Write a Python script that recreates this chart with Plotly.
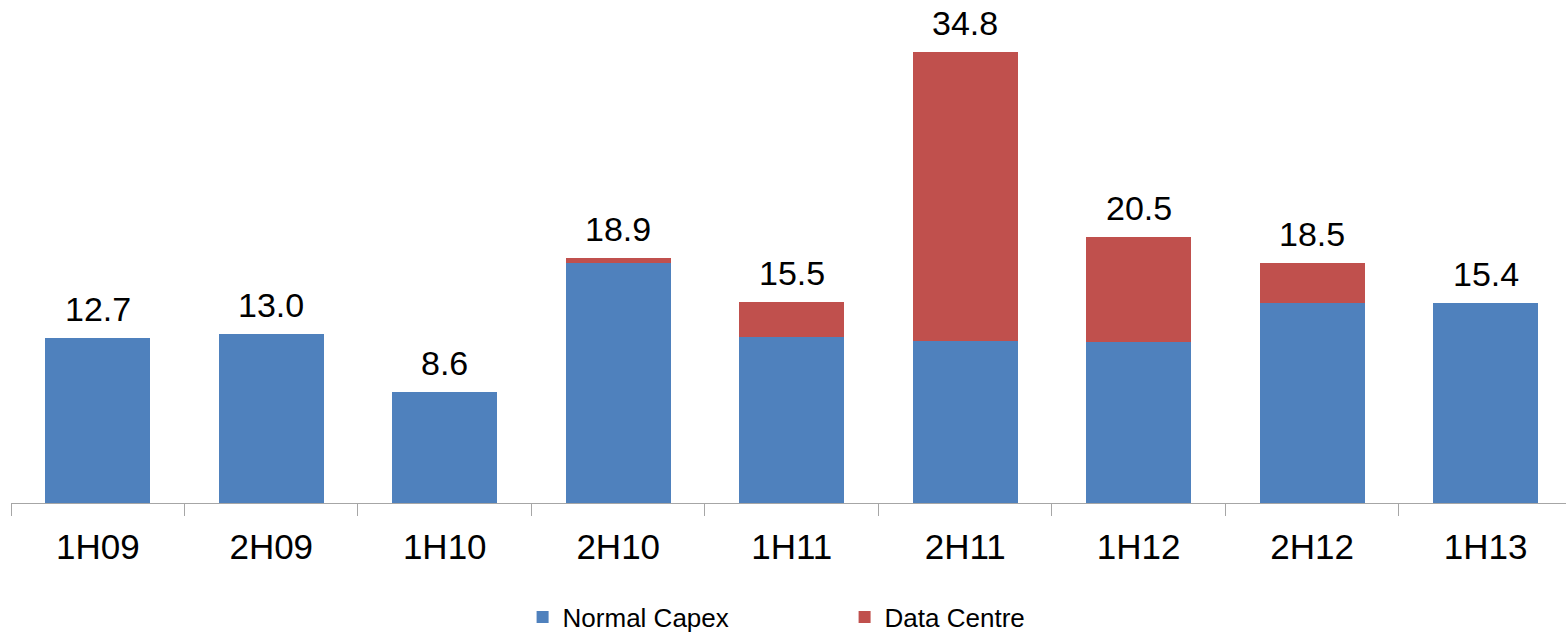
import plotly.graph_objects as go

# Half-year capex, split into normal spend and the data centre build
periods = ["1H09", "2H09", "1H10", "2H10", "1H11", "2H11", "1H12", "2H12", "1H13"]
normal_capex = [12.7, 13.0, 8.6, 18.5, 12.8, 12.5, 12.4, 15.4, 15.4]
data_centre = [0.0, 0.0, 0.0, 0.4, 2.7, 22.3, 8.1, 3.1, 0.0]

totals = [round(a + b, 1) for a, b in zip(normal_capex, data_centre)]

FONT = "Liberation Sans, Arial, sans-serif"
BLUE = "#4F81BD"
RED = "#C0504D"

fig = go.Figure()
fig.add_trace(go.Bar(x=periods, y=normal_capex, name="Normal Capex",
                     marker=dict(color=BLUE, line=dict(width=0))))
fig.add_trace(go.Bar(x=periods, y=data_centre, name="Data Centre",
                     marker=dict(color=RED, line=dict(width=0))))

# Total labels above each stacked column
for p, t in zip(periods, totals):
    fig.add_annotation(x=p, y=t, text=f"{t:.1f}", showarrow=False,
                       yanchor="bottom", yshift=8,
                       font=dict(family=FONT, size=34, color="#000000"))

fig.update_layout(
    width=1566, height=635,
    margin=dict(l=11, r=0, t=0, b=132, autoexpand=False),
    barmode="stack",
    bargap=0.395,
    plot_bgcolor="white", paper_bgcolor="white",
    font=dict(family=FONT, color="#000000"),
    showlegend=True,
    legend=dict(orientation="h", x=0.329, y=-0.227, xanchor="left", yanchor="middle",
                font=dict(family=FONT, size=26, color="#000000"),
                entrywidth=277, entrywidthmode="pixels", itemwidth=30,
                traceorder="normal"),
    xaxis=dict(range=[-0.5, 8.463], type="category", tickson="boundaries",
               automargin=False,
               ticks="outside", ticklen=12, tickcolor="#a6a6a6", tickwidth=1,
               ticklabelstandoff=13,
               showline=True, linecolor="#a6a6a6", linewidth=1,
               showgrid=False, zeroline=False,
               tickfont=dict(family=FONT, size=35, color="#000000")),
    yaxis=dict(range=[0, 38.8], visible=False, showgrid=False, zeroline=False,
               automargin=False),
)

fig.write_html("out.html")
